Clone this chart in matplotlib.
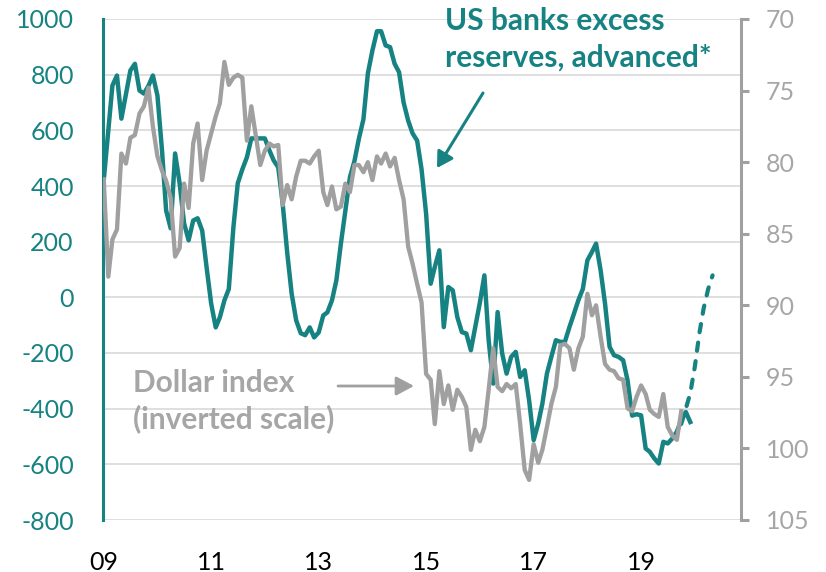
import matplotlib
matplotlib.use("Agg")
import matplotlib.pyplot as plt
import pandas as pd

# ---------------- data ----------------
# US banks excess reserves, advanced* (left axis), monthly from Jan 2009
reserves = [420, 600, 761, 797, 642, 730, 815, 839, 743, 732, 760, 797,
            725, 528, 312, 248, 517, 409, 266, 205, 276, 284, 240, 108,
            -22, -108, -72, -11, 30, 250, 410, 460, 503, 571, 571, 571,
            571, 528, 492, 467, 337, 160, 14, -83, -129, -136, -108, -144,
            -126, -65, -54, -11, 61, 194, 312, 431, 490, 570, 640, 804,
            887, 956, 956, 905, 899, 839, 809, 700, 635, 589, 563, 460,
            300, 49, 109, 169, -107, 37, 25, -71, -125, -130, -190, -107,
            -20, 79, -154, -310, -53, -202, -274, -214, -196, -286, -262, -370,
            -513, -453, -382, -274, -214, -154, -160, -160, -107, -60, -10, 30,
            133, 163, 193, 97, -23, -178, -208, -214, -226, -298, -425, -420,
            -424, -543, -555, -579, -597, -519, -525, -507, -483, -441, -412, -448]
reserves_start = "2009-01-01"

# projection (dashed)
proj = [-455, -400, -345, -250, -130, -40, 30, 79]
proj_start = "2019-10-01"

# Dollar index (right axis, inverted), monthly from Jan 2009
dollar = [81.2, 88.0, 85.4, 84.7, 79.4, 80.1, 78.3, 78.1, 76.6, 76.1, 74.8, 77.5,
          79.6, 80.6, 81.3, 82.5, 86.6, 86.0, 81.5, 83.2, 78.7, 77.3, 81.25, 79.2,
          78.0, 76.8, 75.9, 73.0, 74.6, 74.1, 73.9, 74.1, 78.5, 76.1, 78.2, 80.2,
          79.2, 78.7, 78.9, 78.8, 83.0, 81.6, 82.6, 81.0, 79.9, 79.9, 80.1, 79.6,
          79.2, 82.1, 83.0, 81.7, 83.3, 83.1, 81.5, 82.1, 80.2, 80.2, 80.7, 80.0,
          81.25, 79.6, 80.1, 79.4, 80.3, 79.7, 81.25, 82.6, 85.9, 87.1, 88.5, 89.8,
          94.8, 95.2, 98.3, 94.6, 96.9, 95.6, 97.3, 95.9, 96.4, 97.1, 100.1, 98.7,
          99.5, 98.5, 95.9, 93.0, 95.7, 96.0, 95.5, 95.8, 95.5, 98.3, 101.5, 102.2,
          99.7, 101.0, 100.1, 98.5, 96.9, 95.7, 92.8, 92.7, 93.0, 94.5, 93.0, 92.2,
          89.2, 90.7, 90.0, 92.2, 94.1, 94.5, 94.6, 95.1, 95.2, 97.2, 97.4, 96.4,
          95.6, 96.2, 97.3, 97.6, 97.8, 96.2, 98.5, 99.1, 99.4, 97.4]
dollar_start = "2009-01-01"

left_ticks = [-800, -600, -400, -200, 0, 200, 400, 600, 800, 1000]
right_ticks = [70, 75, 80, 85, 90, 95, 100, 105]
year_ticks = ["2009-01-01", "2011-01-01", "2013-01-01", "2015-01-01", "2017-01-01", "2019-01-01"]
year_labels = ["09", "11", "13", "15", "17", "19"]

# ---------------- style ----------------
TEAL = "#178282"
GREY = "#A0A0A0"
GREY_TXT = "#A6A6A6"
GRID = "#DCDCDC"
plt.rcParams["font.family"] = ["Lato", "DejaVu Sans"]

W, H = 826, 572
fig = plt.figure(figsize=(W / 100, H / 100), dpi=100)
L, R, T, B = 103, 741, 19, 520
ax = fig.add_axes([L / W, 1 - B / H, (R - L) / W, (B - T) / H])

res_dates = pd.date_range(reserves_start, periods=len(reserves), freq="MS")
proj_dates = pd.date_range(proj_start, periods=len(proj), freq="MS")
dol_dates = pd.date_range(dollar_start, periods=len(dollar), freq="MS")

ax.plot(res_dates, reserves, color=TEAL, lw=3.2, solid_joinstyle="round", zorder=3)
ax.plot(proj_dates, proj, color=TEAL, lw=3.0, linestyle=(0, (2.0, 2.5)),
        dash_capstyle="round", zorder=3)

ax.set_ylim(-800, 1000)
ax.set_yticks(left_ticks)
ax.set_yticklabels([str(v) for v in left_ticks])
ax.grid(axis="y", color=GRID, lw=1.3)
ax.set_axisbelow(True)
ax.set_xlim(pd.Timestamp("2008-12-27"), pd.Timestamp("2020-11-10"))
ax.set_xticks(pd.to_datetime(year_ticks))
ax.set_xticklabels(year_labels)

for s in ["top", "right", "bottom"]:
    ax.spines[s].set_visible(False)
ax.spines["left"].set_color(TEAL)
ax.spines["left"].set_linewidth(2.2)
ax.tick_params(axis="y", length=0, pad=21, labelcolor=TEAL, labelsize=18)
ax.tick_params(axis="x", length=0, pad=22, labelcolor="black", labelsize=18)

ax2 = ax.twinx()
ax2.plot(dol_dates, dollar, color=GREY, lw=3.1, solid_joinstyle="round", zorder=3)
ax2.set_ylim(105, 70)
ax2.set_yticks(right_ticks)
ax2.set_yticklabels([str(v) for v in right_ticks])
for s in ["top", "left", "bottom"]:
    ax2.spines[s].set_visible(False)
ax2.spines["right"].set_color(GREY)
ax2.spines["right"].set_linewidth(2.2)
ax2.tick_params(axis="y", length=6, width=2.2, color=GREY, pad=12,
                labelcolor=GREY_TXT, labelsize=18)


def px(x, y):
    return (x, H - y)


ANN = 21.5
fig.text(445 / W, 1 - 29.5 / H, "US banks excess", color=TEAL, fontsize=ANN,
         fontweight="bold", ha="left", va="baseline")
fig.text(445 / W, 1 - 67 / H, "reserves, advanced*", color=TEAL, fontsize=ANN,
         fontweight="bold", ha="left", va="baseline")
fig.text(133 / W, 1 - 391.5 / H, "Dollar index", color=GREY_TXT, fontsize=ANN,
         fontweight="bold", ha="left", va="baseline")
fig.text(133 / W, 1 - 428 / H, "(inverted scale)", color=GREY_TXT, fontsize=ANN,
         fontweight="bold", ha="left", va="baseline")

ax.annotate("", xy=px(437, 168), xytext=px(483, 93), xycoords="figure pixels",
            textcoords="figure pixels",
            arrowprops=dict(arrowstyle="-|>,head_length=0.65,head_width=0.38",
                            color=TEAL, lw=2.2, mutation_scale=14.4,
                            shrinkA=0, shrinkB=0))
ax.annotate("", xy=px(414, 386), xytext=px(338, 386), xycoords="figure pixels",
            textcoords="figure pixels",
            arrowprops=dict(arrowstyle="-|>,head_length=0.75,head_width=0.4",
                            color=GREY, lw=2.0, mutation_scale=14.4,
                            shrinkA=0, shrinkB=0))

fig.savefig("out.png", dpi=100)
